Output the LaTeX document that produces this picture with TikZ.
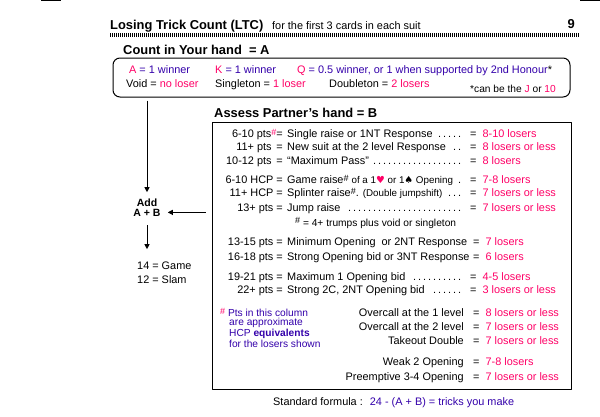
\documentclass[tikz,border=0pt]{standalone}
\usepackage{fontspec}
\setmainfont{Liberation Sans}
\newfontfamily\suitfont{DejaVu Sans}
\usetikzlibrary{arrows.meta}
\definecolor{ltcpink}{RGB}{255,0,102}
\definecolor{ltcblue}{RGB}{51,0,170}
\newcommand{\pk}[1]{\textcolor{ltcpink}{#1}}
\newcommand{\bl}[1]{\textcolor{ltcblue}{#1}}
\newcommand{\sm}[1]{{\fontsize{9.8}{11}\selectfont #1}}
\newcommand{\hsh}[1][black]{\raisebox{2.5pt}{\fontsize{9}{10}\selectfont\textcolor{#1}{\#}}}
\newcommand{\dotted}[1]{\makebox[176pt][l]{#1\leaders\hbox to 5pt{\hss.\hss}\hfill}}
\begin{document}
\begin{tikzpicture}[x=1pt, y=-1pt, font=\fontsize{10.9}{13}\selectfont, line join=round, >={Triangle[length=5pt,width=5pt]},
	every node/.style={inner sep=0pt},
	lft/.style={anchor=base east},
	rgt/.style={anchor=base west},
	small/.style={font=\fontsize{10.2}{12}\selectfont},
	head/.style={font=\bfseries\fontsize{12.9}{15}\selectfont, anchor=base west}]
	\useasboundingbox (0,0) rectangle (600,416);
	\draw (41,0.5)--(61,0.5) (580,0.5)--(600,0.5);
	\path
	(110,29) node[head] (title) {Losing Trick Count (LTC)}
	(272,29) node[rgt] (subtitle) {for the first 3 cards in each suit}
	(575,28) node[head, anchor=base east] (page) {9}
	(123,54) node[head] (counta) {Count in Your hand \ = A}
	(214,117) node[head] (assessb) {Assess Partner's hand = B};
	\draw[line width=3.5pt, dash pattern=on 1pt off 1pt] (110,35)--(580,35);

	% your hand
	\node[draw, line width=1pt, rounded corners=7pt, minimum width=457pt, minimum height=39pt] (handA) at (341.5,77.5) {};
	\path
	(129,73) node[rgt] (ace) {\pk{A} \bl{= 1 winner}}
	(215,73) node[rgt] (king) {\pk{K} \bl{= 1 winner}}
	(297,73) node[rgt] (queen) {\pk{Q} \bl{= 0.5 winner, or 1 when supported by 2nd Honour}*}
	(126,87.5) node[rgt] (void) {Void = \pk{no loser}}
	(215,87.5) node[rgt] (single) {Singleton = \pk{1 loser}}
	(329,87.5) node[rgt] (double) {Doubleton = \pk{2 losers}}
	(470,92.5) node[rgt, small] (jack) {*can be the \pk{J} or \pk{10}};

	% partner's hand
	\node[draw, line width=1pt, minimum width=359pt, minimum height=267pt] (handB) at (391.5,255.5) {};
	\path
	(283,137.5) node[lft] (p1) {6-10 pts\hsh[ltcpink]=}
	(287,137.5) node[rgt] (d1) {\dotted{Single raise or 1NT Response}}
	(470,137.5) node[rgt] (e1) {= \ \pk{8-10 losers}}
	(283,150.5) node[lft] (p2) {11+ pts \,=}
	(287,150.5) node[rgt] (d2) {\dotted{New suit at the 2 level Response \,}}
	(470,150.5) node[rgt] (e2) {= \ \pk{8 losers or less}}
	(283,164.5) node[lft] (p3) {10-12 pts \,=}
	(287,164.5) node[rgt] (d3) {\dotted{``Maximum Pass'' }}
	(470,164.5) node[rgt] (e3) {= \ \pk{8 losers}}
	(283,183.5) node[lft] (p4) {6-10 HCP =}
	(287,183.5) node[rgt] (d4) {\dotted{Game raise\hsh{} \sm{of a 1{\suitfont\pk{♥}} or 1{\suitfont ♠} Opening} }}
	(470,183.5) node[rgt] (e4) {= \ \pk{7-8 losers}}
	(283,196.5) node[lft] (p5) {11+ HCP =}
	(287,196.5) node[rgt] (d5) {\dotted{Splinter raise\hsh. \sm{(Double jumpshift)} }}
	(470,196.5) node[rgt] (e5) {= \ \pk{7 losers or less}}
	(283,211.5) node[lft] (p6) {13+ pts =}
	(287,211.5) node[rgt] (d6) {\dotted{Jump raise }}
	(470,211.5) node[rgt] (e6) {= \ \pk{7 losers or less}}
	(295,226) node[rgt, small] (trumps) {\hsh{} = 4+ trumps plus void or singleton}

	(283,245.5) node[lft] (p8) {13-15 pts =}
	(287,245.5) node[rgt] (d8) {Minimum Opening \ or 2NT Response}
	(473,245.5) node[rgt] (e8) {= \ \pk{7 losers}}
	(283,260.5) node[lft] (p9) {16-18 pts =}
	(287,260.5) node[rgt] (d9) {Strong Opening bid or 3NT Response}
	(473,260.5) node[rgt] (e9) {= \ \pk{6 losers}}
	(283,280.5) node[lft] (p10) {19-21 pts =}
	(287,280.5) node[rgt] (d10) {\dotted{Maximum 1 Opening bid }}
	(470,280.5) node[rgt] (e10) {= \ \pk{4-5 losers}}
	(283,293.5) node[lft] (p11) {22+ pts =}
	(287,293.5) node[rgt] (d11) {\dotted{Strong 2C, 2NT Opening bid }}
	(470,293.5) node[rgt] (e11) {= \ \pk{3 losers or less}}

	(220,316.5) node[rgt, small] (note1) {\hsh[ltcpink] \bl{Pts in this column}}
	(229,325.5) node[rgt, small] (note2) {\bl{are approximate}}
	(229,336.5) node[rgt, small] (note3) {\bl{HCP \textbf{equivalents}}}
	(229,347.5) node[rgt, small] (note4) {\bl{for the losers shown}}

	(464,316.5) node[lft] (o1) {Overcall at the 1 level}
	(473,316.5) node[rgt] (r1) {= \ \pk{8 losers or less}}
	(464,330.5) node[lft] (o2) {Overcall at the 2 level}
	(473,330.5) node[rgt] (r2) {= \ \pk{7 losers or less}}
	(464,344.5) node[lft] (o3) {Takeout Double}
	(473,344.5) node[rgt] (r3) {= \ \pk{7 losers or less}}
	(464,365.5) node[lft] (o4) {Weak 2 Opening}
	(473,365.5) node[rgt] (r4) {= \ \pk{7-8 losers}}
	(464,380.5) node[lft] (o5) {Preemptive 3-4 Opening}
	(473,380.5) node[rgt] (r5) {= \ \pk{7 losers or less}}

	(273,405.5) node[rgt] (formula) {Standard formula : \ \bl{24 - (A + B) = tricks you make}};

	% add the two counts
	\path
	(147,206) node[anchor=base, font=\bfseries\fontsize{10.5}{12}\selectfont] (add) {Add}
	(147,216) node[anchor=base, font=\bfseries\fontsize{10.5}{12}\selectfont] (sum) {A + B}
	(137,269) node[rgt] (game) {14 = Game}
	(137,283) node[rgt] (slam) {12 = Slam};
	\draw[->, line width=1pt, shorten <=3pt, shorten >=6pt] (handA.south -| add) -- (add.north);
	\draw[->, line width=1pt, shorten <=6pt, shorten >=7pt] (handB.west |- sum.center) -- (sum.east |- sum.center);
	\draw[->, line width=1pt, shorten <=9pt, shorten >=12pt] (sum.south) -- (sum.south |- game.north);
\end{tikzpicture}
\end{document}
